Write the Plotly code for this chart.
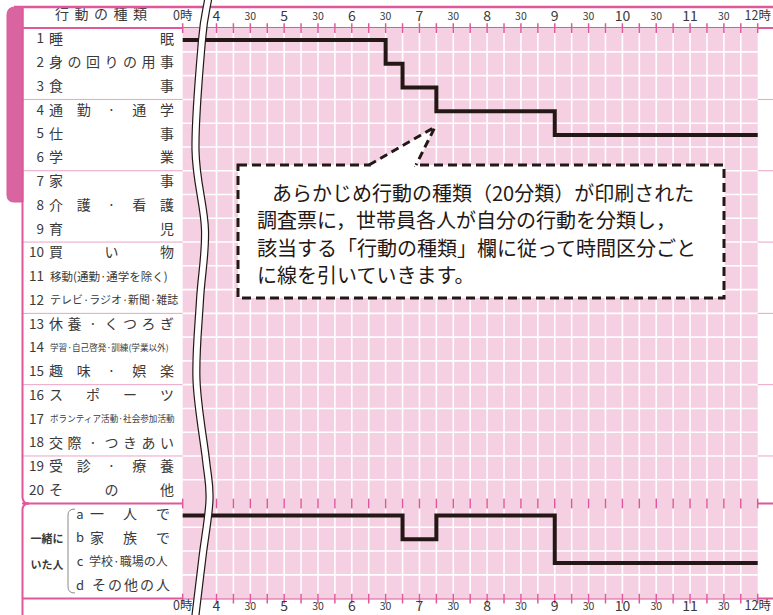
import plotly.graph_objects as go

# --- data read off the form -------------------------------------------------
# time in hours, row number of the activity / companion drawn by the respondent
ACTIVITY_TIMES = [0, 6.5, 6.75, 7.25, 9.0, 12.0]
ACTIVITY_ROWS = [1, 2, 3, 4, 5, 5]
COMPANION_TIMES = [0, 6.75, 7.25, 9.0, 12.0]
COMPANION_ROWS = ["a", "b", "a", "c", "c"]

TICK_TIMES = [0, 4, 4.5, 5, 5.5, 6, 6.5, 7, 7.5, 8, 8.5, 9, 9.5, 10, 10.5, 11, 11.5, 12]
TICK_LABELS = ["0時", "4", "30", "5", "30", "6", "30", "7", "30", "8", "30",
               "9", "30", "10", "30", "11", "30", "12時"]

HEADER = ["行", "動", "の", "種", "類"]
ROW_LABELS = [
    ("1", ["睡", "眠"]),
    ("2", ["身", "の", "回", "り", "の", "用", "事"]),
    ("3", ["食", "事"]),
    ("4", ["通", "勤", "·", "通", "学"]),
    ("5", ["仕", "事"]),
    ("6", ["学", "業"]),
    ("7", ["家", "事"]),
    ("8", ["介", "護", "·", "看", "護"]),
    ("9", ["育", "児"]),
    ("10", ["買", "い", "物"]),
    ("11", "移動(通勤·通学を除く)"),
    ("12", "テレビ·ラジオ·新聞·雑誌"),
    ("13", ["休", "養", "·", "く", "つ", "ろ", "ぎ"]),
    ("14", "学習·自己啓発·訓練(学業以外)"),
    ("15", ["趣", "味", "·", "娯", "楽"]),
    ("16", ["ス", "ポ", "ー", "ツ"]),
    ("17", "ボランティア活動·社会参加活動"),
    ("18", ["交", "際", "·", "つ", "き", "あ", "い"]),
    ("19", ["受", "診", "·", "療", "養"]),
    ("20", ["そ", "の", "他"]),
]
SMALL_LABEL_SIZE = {"11": 11.5, "12": 11, "14": 8.6, "17": 8.6}
COMPANION_KEYS = ["a", "b", "c", "d"]
COMPANION_LABELS = [["一", "人", "で"], ["家", "族", "で"], "学校·職場の人", ["そ", "の", "他", "の", "人"]]
GROUP_BREAKS = [3.5, 6.5, 9.5, 12.5, 15.5, 18.5]

NOTE_LINES = [
    "あらかじめ行動の種類（20分類）が印刷された",
    "調査票に，世帯員各人が自分の行動を分類し，",
    "該当する「行動の種類」欄に従って時間区分ごと",
    "に線を引いていきます。",
]

# --- geometry -----------------------------------------------------------------
W, H = 773, 615
X_FOUR = 216.5      # pixel of 4時
HOUR = 67.65        # pixels per hour
Y_ROW1 = 40.0       # pixel centre of row 1
ROW = 23.77         # pixels per row
ZERO_AT = 3.5       # axis position of 0時 (time axis is broken between 0 and 4)

FONT = "Noto Sans CJK JP, sans-serif"
PINK = "#e0589c"
LIGHT_PINK = "#eca3c7"
GRID_PINK = "#f5d0e2"
TAB_PINK = "#d8659f"
INK = "#231815"
TEXT = "#3a3a3a"


def axis_time(t):
    return ZERO_AT + t / 8 if t < 4 else t


def row_px(r):
    return Y_ROW1 + (r - 1) * ROW


def companion_row(key):
    return 21 + COMPANION_KEYS.index(key)


def smooth_path(pts):
    d = f"M {pts[0][0]:.1f},{pts[0][1]:.1f}"
    for i in range(len(pts) - 1):
        p0 = pts[i - 1] if i > 0 else pts[i]
        p1, p2 = pts[i], pts[i + 1]
        p3 = pts[i + 2] if i + 2 < len(pts) else p2
        c1 = (p1[0] + (p2[0] - p0[0]) / 6, p1[1] + (p2[1] - p0[1]) / 6)
        c2 = (p2[0] - (p3[0] - p1[0]) / 6, p2[1] - (p3[1] - p1[1]) / 6)
        d += f" C {c1[0]:.1f},{c1[1]:.1f} {c2[0]:.1f},{c2[1]:.1f} {p2[0]:.1f},{p2[1]:.1f}"
    return d


fig = go.Figure()

# --- grid background ------------------------------------------------------------
shapes = [dict(type="rect", xref="x", yref="y", x0=ZERO_AT, x1=12, y0=0.5, y1=24.5,
               fillcolor=GRID_PINK, line=dict(width=0), layer="below")]
quarter = [4 + 0.25 * i for i in range(32)]
for q in quarter:
    shapes.append(dict(type="line", xref="x", yref="y", x0=q, x1=q, y0=0.5, y1=24.5,
                       line=dict(color="white", width=1.6), layer="below"))
for r in list(range(1, 20)) + [21, 22, 23]:
    shapes.append(dict(type="line", xref="x", yref="y", x0=ZERO_AT, x1=12, y0=r + 0.5, y1=r + 0.5,
                       line=dict(color="white", width=1.6), layer="below"))
for g in GROUP_BREAKS:
    shapes.append(dict(type="line", xref="x2", yref="y", x0=22, x1=W, y0=g, y1=g,
                       line=dict(color=LIGHT_PINK, width=1), layer="below"))
for g in [0.5, 20.5, 24.5]:
    shapes.append(dict(type="line", xref="x2", yref="y", x0=22, x1=W, y0=g, y1=g,
                       line=dict(color=PINK, width=2), layer="below"))

# frame, 午前 tab, brace
shapes += [
    dict(type="line", xref="x2", yref="y2", x0=14, x1=W, y0=7, y1=7, line=dict(color=PINK, width=2.5)),
    dict(type="path", xref="x2", yref="y2",
         path="M 23,7 L 15,7 Q 7,7 7,15 L 7,195 Q 7,202 14,202 L 23,202 Z",
         fillcolor=TAB_PINK, line=dict(color=PINK, width=1)),
    dict(type="path", xref="x2", yref="y2",
         path="M 22.5,7 L 22.5,497 Q 22.5,503.5 29,503.5", line=dict(color=PINK, width=2)),
    dict(type="path", xref="x2", yref="y2",
         path="M 29,503.5 Q 22.5,503.5 22.5,510 L 22.5,620", line=dict(color=PINK, width=2)),
    dict(type="path", xref="x2", yref="y2",
         path="M 75,509 Q 68,509 68,515 L 68,587 Q 68,593 75,593", line=dict(color="#8a8a8a", width=1)),
]

# broken-axis wavy double line
BREAK_PTS = [(209, -12), (208, 0), (202, 40), (195.5, 150), (205, 230), (200, 300),
             (196.5, 380), (206, 460), (209.5, 500), (202.5, 557), (195.5, 615), (194, 628)]
left = [(x - 3.5, y) for x, y in BREAK_PTS]
right = [(x + 3.5, y) for x, y in BREAK_PTS]
fill_path = smooth_path(left) + f" L {right[-1][0]},{right[-1][1]} " + smooth_path(right[::-1])[1:] + " Z"
shapes += [
    dict(type="path", xref="x2", yref="y2", path=fill_path, fillcolor="white", line=dict(width=0), layer="above"),
    dict(type="path", xref="x2", yref="y2", path=smooth_path(left), line=dict(color=INK, width=1.2), layer="above"),
    dict(type="path", xref="x2", yref="y2", path=smooth_path(right), line=dict(color=INK, width=1.2), layer="above"),
]

# callout
shapes += [
    dict(type="rect", xref="x2", yref="y2", x0=238, x1=724, y0=165, y1=298, fillcolor="white",
         line=dict(color=INK, width=3, dash="9px,5px"), layer="above"),
    dict(type="path", xref="x2", yref="y2", path="M 369,166 L 435,127 L 416,166 Z",
         fillcolor="white", line=dict(width=0), layer="above"),
    dict(type="rect", xref="x2", yref="y2", x0=371, x1=414, y0=162.5, y1=167.5,
         fillcolor="white", line=dict(width=0), layer="above"),
    dict(type="path", xref="x2", yref="y2", path="M 369,165 L 435,127 L 416,165",
         line=dict(color=INK, width=3, dash="8px,5px"), layer="above"),
]

# --- recorded lines ---------------------------------------------------------------
fig.add_trace(go.Scatter(
    x=[axis_time(t) for t in ACTIVITY_TIMES], y=ACTIVITY_ROWS, mode="lines",
    line=dict(color=INK, width=4, shape="hv"), hoverinfo="skip", showlegend=False))
fig.add_trace(go.Scatter(
    x=[axis_time(t) for t in COMPANION_TIMES], y=[companion_row(k) for k in COMPANION_ROWS], mode="lines",
    line=dict(color=INK, width=4, shape="hv"), hoverinfo="skip", showlegend=False))

# tick marks on the pink rules
tick_x = [ZERO_AT] + quarter + [12]
fig.add_trace(go.Scatter(
    x=tick_x * 3, y=[0.5] * len(tick_x) + [20.5] * len(tick_x) + [24.5] * len(tick_x),
    mode="markers", marker=dict(symbol="line-ns", size=7, line=dict(color=PINK, width=1.5)),
    hoverinfo="skip", showlegend=False))

# time labels, top and bottom
sizes = [10.5 if s == "30" else 12.5 if "時" in s else 14 for s in TICK_LABELS]
for yy in [0.04, 24.86]:
    fig.add_trace(go.Scatter(
        x=[axis_time(t) for t in TICK_TIMES], y=[yy] * len(TICK_TIMES), mode="text",
        text=TICK_LABELS, textposition="middle center",
        textfont=dict(family=FONT, size=sizes, color=TEXT), hoverinfo="skip", showlegend=False))

# --- left-hand table text ---------------------------------------------------------
tx, ty, tt, ts = [], [], [], []
lx, ly, lt, ls = [], [], [], []


def spread(tokens, x0, x1, y, size):
    n = len(tokens)
    for i, tok in enumerate(tokens):
        tx.append(x0 + i * (x1 - x0) / (n - 1))
        ty.append(y)
        tt.append(tok)
        ts.append(size)


spread(HEADER, 62, 140, 15, 14)
num_x, num_y, num_t = [], [], []
for num, label in ROW_LABELS:
    r = int(num)
    num_x.append(44)
    num_y.append(row_px(r))
    num_t.append(num)
    if isinstance(label, str):
        lx.append(50)
        ly.append(row_px(r))
        lt.append(label)
        ls.append(SMALL_LABEL_SIZE[num])
    else:
        spread(label, 56, 167, row_px(r), 14)

for key, label in zip(COMPANION_KEYS, COMPANION_LABELS):
    r = companion_row(key)
    tx.append(80)
    ty.append(row_px(r))
    tt.append(key)
    ts.append(13)
    if isinstance(label, str):
        lx.append(89)
        ly.append(row_px(r))
        lt.append(label)
        ls.append(12)
    else:
        spread(label, 99 if len(label) > 3 else 97, 163, row_px(r), 14)

fig.add_trace(go.Scatter(x=tx, y=ty, mode="text", text=tt, xaxis="x2", yaxis="y2",
                         textfont=dict(family=FONT, size=ts, color=TEXT),
                         hoverinfo="skip", showlegend=False))
fig.add_trace(go.Scatter(x=lx, y=ly, mode="text", text=lt, xaxis="x2", yaxis="y2",
                         textposition="middle right",
                         textfont=dict(family=FONT, size=ls, color=TEXT),
                         hoverinfo="skip", showlegend=False))
fig.add_trace(go.Scatter(x=num_x, y=num_y, mode="text", text=num_t, xaxis="x2", yaxis="y2",
                         textposition="middle left",
                         textfont=dict(family=FONT, size=13.5, color=TEXT),
                         hoverinfo="skip", showlegend=False))
fig.add_trace(go.Scatter(x=[47, 47, 15, 15], y=[540, 566, 41, 97], mode="text",
                         text=["一緒に", "いた人", "午", "前"], xaxis="x2", yaxis="y2",
                         textfont=dict(family=FONT, size=[11, 11, 13, 13],
                                       color=[TEXT, TEXT, "white", "white"], weight="bold"),
                         hoverinfo="skip", showlegend=False))

# --- callout text -------------------------------------------------------------------
annotations = []
for i, line in enumerate(NOTE_LINES):
    annotations.append(dict(
        x=270 if i == 0 else 255, y=192 + i * 27.5, xref="x2", yref="y2", text=line,
        xanchor="left", yanchor="middle", showarrow=False,
        font=dict(family=FONT, size=20, color=INK)))

fig.update_layout(
    width=W, height=H, margin=dict(l=0, r=0, t=0, b=0),
    paper_bgcolor="white", plot_bgcolor="white",
    shapes=shapes, annotations=annotations,
    xaxis=dict(range=[4 - X_FOUR / HOUR, 4 + (W - X_FOUR) / HOUR], visible=False, fixedrange=True),
    yaxis=dict(range=[1 + (H - Y_ROW1) / ROW, 1 - Y_ROW1 / ROW], visible=False, fixedrange=True),
    xaxis2=dict(range=[0, W], overlaying="x", visible=False, fixedrange=True),
    yaxis2=dict(range=[H, 0], overlaying="y", visible=False, fixedrange=True),
)

# the page body has a default 8px margin; drop it so the figure sits at the window's corner
fig.write_html("out.html", config={"displayModeBar": False},
               post_script="document.body.style.margin = '0px';")
